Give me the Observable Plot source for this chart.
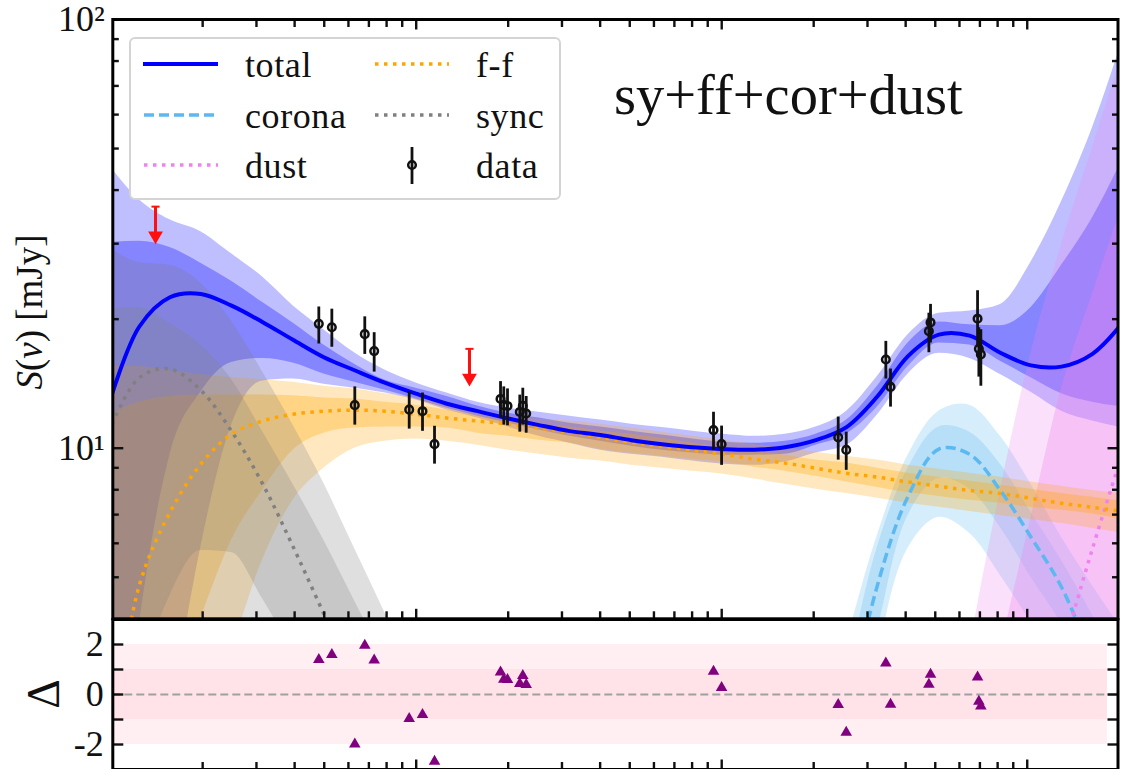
<!DOCTYPE html>
<html>
<head>
<meta charset="utf-8">
<script src="https://cdn.jsdelivr.net/npm/d3@7"></script>
<script src="https://cdn.jsdelivr.net/npm/@observablehq/plot@0.6"></script>
<style>
  html, body { margin: 0; padding: 0; background: #fff; overflow: hidden; }
  #page { position: relative; width: 1125px; height: 769px; font-family: "Liberation Serif", serif; color: #111; }
  #chart, #resid { position: absolute; left: 0; }
  #chart { top: 0; }
  #resid { top: 618px; }
  svg { overflow: visible; background: transparent !important; }
  .ylab { position: absolute; white-space: nowrap; transform: translate(-50%, -50%) rotate(-90deg); }
  #legend { position: absolute; left: 129px; top: 37px; width: 428px; height: 159px; background: #fff;
            border: 2px solid #d4d4d4; border-radius: 6px; }
  #legend svg { position: absolute; left: 0; top: 0; }
  .lt { position: absolute; font-size: 36px; line-height: 40px; letter-spacing: 0.6px; }
  #model { position: absolute; left: 614px; top: 62px; font-size: 56.5px; line-height: 66px; white-space: nowrap; }
</style>
</head>
<body>
<div id="page">
  <div id="chart"></div>
  <div id="resid"></div>
  <div class="ylab" style="left:29px;top:312px;font-size:37px"><i>S</i>(<i>ν</i>) [mJy]</div>
  <div class="ylab" style="left:43px;top:694px;font-size:46px">Δ</div>
  <div id="model">sy+ff+cor+dust</div>
  <div id="legend">
    <svg width="428" height="159">
      <line x1="12" x2="87" y1="25" y2="25" stroke="#0000ff" stroke-width="4"/>
      <line x1="13" x2="87" y1="76" y2="76" stroke="#5cb8f0" stroke-width="3.5" stroke-dasharray="10 5"/>
      <line x1="13" x2="87" y1="126" y2="126" stroke="#ee82ee" stroke-width="3.5" stroke-dasharray="3.5 5.5"/>
      <line x1="244" x2="318" y1="25" y2="25" stroke="#ffa500" stroke-width="3.5" stroke-dasharray="3.5 5.5"/>
      <line x1="244" x2="318" y1="76" y2="76" stroke="#808080" stroke-width="3.5" stroke-dasharray="3.5 5.5"/>
      <line x1="281" x2="281" y1="108" y2="145" stroke="#111" stroke-width="2.8"/>
      <circle cx="281" cy="126" r="3.8" fill="none" stroke="#111" stroke-width="2.5"/>
    </svg>
    <div class="lt" style="left:114px;top:6px">total</div>
    <div class="lt" style="left:114px;top:57px">corona</div>
    <div class="lt" style="left:114px;top:107px">dust</div>
    <div class="lt" style="left:345px;top:6px">f-f</div>
    <div class="lt" style="left:345px;top:57px">sync</div>
    <div class="lt" style="left:345px;top:107px">data</div>
  </div>
</div>

<script>
// ─────────────────────────────────────────────────────────────
//  1. DATA
// ─────────────────────────────────────────────────────────────
const nuDomain = [0.1016, 198.2];
const sDomain  = [4, 100];

// frequency grid shared by the model curves
const nuGrid = [0.0984, 0.124, 0.1563, 0.1972, 0.2486, 0.3136, 0.395, 0.4983, 0.628, 0.7924,
  0.998, 1.26, 1.588, 2.002, 2.523, 3.182, 4.012, 5.06, 6.38, 8.04,
  10.14, 12.79, 16.12, 20.32, 25.62, 32.31, 40.73, 51.37, 64.76, 81.66,
  102.9, 129.5, 163.6, 206.4];

const total = [12.6, 19.2, 22.5, 22.9, 21.5, 19.7, 17.9, 16.3, 15.2, 14.2,
  13.4, 12.7, 12.2, 11.73, 11.32, 10.96, 10.73, 10.44, 10.22, 10.05,
  9.95, 9.92, 10.05, 10.44, 11.2, 13.2, 16.4, 18.4, 18.3, 16.7,
  15.6, 15.5, 16.6, 19.7];
const totalOuterHi = [45.9, 38.0, 34.1, 32.0, 28.4, 25.1, 21.5, 18.9, 16.7, 15.2,
  14.2, 13.45, 12.8, 12.4, 12.13, 11.88, 11.63, 11.38, 11.17, 10.96,
  10.78, 10.66, 10.78, 11.2, 12.2, 14.7, 18.4, 20.65, 20.9, 21.65,
  27.2, 37.6, 56.0, 90.9];
const totalInnerHi = [30.2, 30.4, 29.4, 27.0, 24.5, 21.9, 19.6, 17.4, 15.7, 14.4,
  13.8, 13.2, 12.55, 12.07, 11.76, 11.44, 11.2, 10.96, 10.73, 10.5,
  10.32, 10.27, 10.38, 10.78, 11.63, 13.95, 17.6, 19.7, 19.4, 19.3,
  21.3, 26.7, 34.5, 47.6];
const totalInnerLo = [0.877, 3.85, 9.63, 13.5, 15.85, 16.2, 15.8, 14.9, 14.25, 13.65,
  13.03, 12.4, 11.88, 11.44, 11.02, 10.66, 10.38, 10.11, 9.89, 9.74,
  9.63, 9.63, 9.68, 10.16, 10.78, 12.47, 15.5, 17.6, 17.4, 15.95,
  14.6, 13.4, 12.8, 12.47];
const totalOuterLo = [0.51, 0.877, 2.31, 5.87, 11.32, 14.35, 14.5, 14.1, 13.8, 13.45,
  12.95, 12.27, 11.76, 11.2, 10.66, 10.27, 9.89, 9.68, 9.53, 9.33,
  9.17, 9.12, 9.28, 9.74, 10.16, 11.95, 14.9, 16.65, 16.2, 14.85,
  13.5, 12.2, 11.57, 11.14];

const ff = [1.86, 4.78, 7.08, 9.18, 10.78, 11.57, 12.0, 12.2, 12.27, 12.2,
  12.0, 11.76, 11.57, 11.38, 11.14, 10.9, 10.6, 10.32, 10.11, 9.89,
  9.68, 9.43, 9.23, 8.98, 8.74, 8.56, 8.34, 8.15, 7.97, 7.84,
  7.64, 7.44, 7.28, 7.12];
const ffOuterHi = [15.5, 15.5, 15.15, 14.85, 14.6, 14.45, 14.25, 13.95, 13.75, 13.4,
  13.1, 12.67, 12.27, 11.88, 11.7, 11.57, 11.38, 11.14, 10.9, 10.66,
  10.44, 10.22, 10, 9.79, 9.58, 9.38, 9.12, 8.93, 8.74, 8.56,
  8.34, 8.15, 7.97, 7.84];
const ffInnerHi = [11.94, 12.8, 13.2, 13.3, 13.3, 13.3, 13.25, 13.1, 13.03, 12.8,
  12.6, 12.27, 11.88, 11.57, 11.38, 11.2, 10.96, 10.78, 10.55, 10.27,
  10.05, 9.84, 9.63, 9.38, 9.23, 8.98, 8.74, 8.56, 8.38, 8.2,
  8.02, 7.84, 7.68, 7.52];
const ffInnerLo = [0.51, 1.15, 2.57, 4.02, 6.1, 7.97, 9.89, 10.84, 11.14, 11.2,
  11.2, 11.14, 10.84, 10.66, 10.44, 10.27, 9.95, 9.74, 9.58, 9.43,
  9.28, 9.03, 8.84, 8.6, 8.34, 8.1, 7.88, 7.72, 7.56, 7.44,
  7.28, 7.17, 7.02, 6.82];
const ffOuterLo = [0.30, 0.51, 1.15, 2.07, 3.37, 5.47, 7.56, 8.98, 10, 10.38,
  10.5, 10.38, 10.16, 9.89, 9.68, 9.48, 9.33, 9.12, 8.98, 8.84,
  8.7, 8.47, 8.24, 8.02, 7.84, 7.64, 7.44, 7.28, 7.12, 6.97,
  6.82, 6.67, 6.5, 6.33];

// sync only matters at the low frequency end
const syncNu = [0.0984, 0.124, 0.1563, 0.1972, 0.2486, 0.3136, 0.395, 0.4983, 0.628, 0.7924, 0.998];
const sync = [10.9, 14.6, 15.3, 13.65, 10.96, 8.28, 5.9, 4.11, 2.87, 1.96, 1.34];
const syncOuterHi = [29.5, 27.1, 26.7, 24.3, 19.8, 15.1, 11.32, 8.28, 5.84, 4.11, 2.87];
const syncInnerHi = [21.1, 21.3, 19.5, 17.4, 14.45, 10.96, 8.24, 6.1, 4.41, 3.19, 2.31];
const syncInnerLo = [1.5, 2.87, 4.53, 5.77, 5.71, 4.46, 3.37, 2.57, 1.96, 1.5, 1.15];
const syncOuterLo = [1, 1, 1, 1, 1, 1, 1, 1, 1, 1, 1];

const coronaNu = [20.32, 25.62, 32.31, 40.73, 51.37, 64.76, 81.66, 102.9, 129.5, 163.6, 206.4];
const corona = [0.88, 2.31, 4.78, 7.72, 9.95, 9.68, 7.97, 6.2, 4.74, 3.19, 2.07];
const coronaOuterHi = [1.96, 3.53, 6.26, 9.63, 12.2, 12.6, 10.66, 8.24, 6.2, 4.78, 3.75];
const coronaInnerHi = [1.15, 2.87, 5.87, 8.98, 11.2, 10.9, 9.18, 7.08, 5.47, 4.07, 2.87];
const coronaInnerLo = [0.67, 1.96, 3.75, 6.97, 8.51, 8.02, 6.53, 5.0, 3.9, 2.87, 1.96];
const coronaOuterLo = [0.30, 0.88, 3.19, 5.84, 6.9, 6.33, 5.05, 3.9, 2.87, 1.96, 1.27];

const dustNu = [51.37, 64.76, 81.66, 102.9, 129.5, 163.6, 206.4];
const dust = [0.30, 0.51, 0.98, 1.77, 3.28, 5.84, 9.89];
const dustOuterHi = [1.15, 3.37, 7.97, 16.7, 29.8, 50.3, 85];
const dustInnerHi = [0.51, 1.5, 3.37, 6.9, 13.8, 23, 37.6];
const dustInnerLo = [0.3, 0.3, 0.3, 0.3, 0.3, 0.3, 0.3];
const dustOuterLo = [0.2, 0.2, 0.2, 0.2, 0.2, 0.2, 0.2];

// measured fluxes
const obsNu = [0.480, 0.5295, 0.6295, 0.6787, 0.7285, 0.9486, 1.0486, 1.148, 1.888, 1.935, 1.990, 2.183, 2.233,
  2.291, 9.40, 9.99, 24.06, 25.56, 34.45, 35.69, 47.65, 48.25, 68.77, 69.45, 70.5];
const obsS = [19.5, 19.15, 12.6, 18.45, 16.85, 12.3, 12.2, 10.22, 13.03, 12.6, 12.55, 12.15, 12.55,
  12.05, 11.02, 10.22, 10.6, 9.91, 16.1, 13.9, 18.75, 19.65, 20.05, 17.05, 16.55];
const obsHi = [21.35, 21.1, 13.9, 20.25, 18.6, 13.55, 13.45, 11.25, 14.3, 13.9, 13.75, 13.3, 13.8,
  13.2, 12.13, 11.26, 11.82, 10.9, 17.75, 15.3, 20.65, 21.65, 23.3, 19.1, 18.9];
const obsLo = [17.5, 17.2, 11.32, 16.55, 15.05, 11.08, 10.95, 9.18, 11.76, 11.32, 11.28, 10.9, 11.32,
  10.84, 9.89, 9.12, 9.38, 8.88, 14.5, 12.47, 16.7, 17.6, 17.2, 14.65, 13.95];
const residual = [1.39, 1.59, -1.99, 1.96, 1.37, -0.97, -0.81, -2.68, 0.89, 0.6, 0.59, 0.43, 0.75,
  0.39, 0.92, 0.27, -0.41, -1.52, 1.25, -0.4, 0.4, 0.8, 0.69, -0.28, -0.47];

// upper limits
const limitNu  = [0.1402, 1.494];
const limitTop = [36.6, 17.05];
const limitEnd = [31.3, 14.58];

// sigma bands of the residual panel
const sigmaLo = [-2, -1];
const sigmaHi = [2, 1];
const sigmaOp = [0.25, 0.25];
const sigmaEnd = 183;

const nuMajor = [1, 10, 100];
const nuMinor = [0.2, 0.3, 0.4, 0.5, 0.6, 0.7, 0.8, 0.9, 2, 3, 4, 5, 6, 7, 8, 9,
  20, 30, 40, 50, 60, 70, 80, 90];
const sMajor = [10, 100];
const sMinor = [5, 6, 7, 8, 9, 20, 30, 40, 50, 60, 70, 80, 90];
const sLabels = { 10: "10¹", 100: "10²" };
const residTicks = [-2, -1, 0, 1, 2];
const residLabels = [-2, 0, 2];

// ─────────────────────────────────────────────────────────────
//  2. HELPERS
// ─────────────────────────────────────────────────────────────
const FONT = "Liberation Serif";
const INK  = "#111";

function band(nu, lo, hi, fill, fillOpacity, bandCurve = "monotone-x") {
  return Plot.areaY(nu, { x: nu, y1: lo, y2: hi, fill, fillOpacity, curve: bandCurve, clip: true });
}

function curve(nu, s, stroke, strokeWidth, strokeDasharray) {
  return Plot.line(nu, {
    x: nu, y: s, stroke, strokeWidth, strokeDasharray,
    strokeLinecap: "butt", curve: "catmull-rom", clip: true
  });
}

// inward ticks, no text
const blank = () => "";
function tickX(values, anchor, tickSize) {
  return Plot.axisX(values, { anchor, tickSize, tickFormat: blank, label: null, stroke: INK, strokeWidth: 2.4 });
}
function tickY(values, anchor, tickSize) {
  return Plot.axisY(values, { anchor, tickSize, tickFormat: blank, label: null, stroke: INK, strokeWidth: 2.4 });
}

// flat cap on top of the upper limit arrows
const capSymbol = {
  draw(ctx, size) {
    const w = Math.sqrt(size);
    ctx.moveTo(-w, -1);
    ctx.lineTo(w, -1);
    ctx.lineTo(w, 1);
    ctx.lineTo(-w, 1);
    ctx.closePath();
  }
};

// ─────────────────────────────────────────────────────────────
//  3. MAIN PANEL
// ─────────────────────────────────────────────────────────────
const main = Plot.plot({
  width: 1125,
  height: 620,
  marginLeft: 112.3,
  marginRight: 7.5,
  marginTop: 19,
  marginBottom: 1.7,
  style: { background: "transparent" },
  x: { type: "log", domain: nuDomain, axis: null },
  y: { type: "log", domain: sDomain, axis: null },
  marks: [
    band(nuGrid, totalOuterLo, totalOuterHi, "#0000ff", 0.25),
    band(nuGrid, totalInnerLo, totalInnerHi, "#0000ff", 0.3),
    band(coronaNu, coronaOuterLo, coronaOuterHi, "#5cb8f0", 0.25, "catmull-rom"),
    band(coronaNu, coronaInnerLo, coronaInnerHi, "#5cb8f0", 0.25, "catmull-rom"),
    band(dustNu, dustOuterLo, dustOuterHi, "#ee82ee", 0.25),
    band(dustNu, dustInnerLo, dustInnerHi, "#ee82ee", 0.3),
    band(nuGrid, ffOuterLo, ffOuterHi, "#ffa500", 0.25),
    band(nuGrid, ffInnerLo, ffInnerHi, "#ffa500", 0.3),
    band(syncNu, syncOuterLo, syncOuterHi, "#808080", 0.25),
    band(syncNu, syncInnerLo, syncInnerHi, "#808080", 0.25),

    curve(coronaNu, corona, "#5cb8f0", 3.5, "10 5"),
    curve(dustNu, dust, "#ee82ee", 3.5, "3.5 5.5"),
    curve(syncNu, sync, "#808080", 3.5, "3.5 5.5"),
    curve(nuGrid, ff, "#ffa500", 3.5, "3.5 5.5"),
    curve(nuGrid, total, "#0000ff", 4),

    // upper limits
    Plot.ruleX(limitNu, { x: limitNu, y1: limitTop, y2: limitEnd, stroke: "#ff1010", strokeWidth: 3 }),
    Plot.dot(limitNu, { x: limitNu, y: limitEnd, symbol: "triangle", rotate: 180, r: 5.5, fill: "#ff1010", stroke: "none" }),
    Plot.dot(limitNu, { x: limitNu, y: limitTop, symbol: capSymbol, r: 2.3, fill: "#ff1010", stroke: "none" }),

    // data
    Plot.ruleX(obsNu, { x: obsNu, y1: obsLo, y2: obsHi, stroke: INK, strokeWidth: 2.8 }),
    Plot.dot(obsNu, { x: obsNu, y: obsS, r: 3.8, stroke: INK, strokeWidth: 2.5, fill: "none" }),

    tickX(nuMinor, "bottom", -7),
    tickX(nuMajor, "bottom", -9.5),
    tickX(nuMinor, "top", -7),
    tickX(nuMajor, "top", -9.5),
    tickY(sMinor, "left", -6.5),
    tickY(sMajor, "left", -11),
    tickY(sMinor, "right", -6.5),
    tickY(sMajor, "right", -11),
    Plot.axisY(sMajor, {
      anchor: "left", tickSize: 0, tickPadding: 8, label: null, stroke: "none",
      tickFormat: d => sLabels[d], fontSize: 36, fontFamily: FONT, fill: INK
    }),
    Plot.frame({ stroke: "black", strokeWidth: 3 })
  ]
});
document.getElementById("chart").appendChild(main);

// ─────────────────────────────────────────────────────────────
//  4. RESIDUAL PANEL
// ─────────────────────────────────────────────────────────────
const resid = Plot.plot({
  width: 1125,
  height: 151,
  marginLeft: 112.3,
  marginRight: 7.5,
  marginTop: 1,
  marginBottom: 0,
  style: { background: "transparent" },
  x: { type: "log", domain: nuDomain, axis: null },
  y: { domain: [-3, 3], axis: null },
  marks: [
    Plot.rect(sigmaLo, { x1: nuDomain[0], x2: sigmaEnd, y1: sigmaLo, y2: sigmaHi, fill: "#ffc0cb", fillOpacity: sigmaOp }),
    Plot.ruleY([0], { stroke: "#a0a0a0", strokeWidth: 2, strokeDasharray: "8 4" }),
    Plot.dot(obsNu, { x: obsNu, y: residual, symbol: "triangle", r: 4.3, fill: "#800080", stroke: "none" }),
    tickX(nuMinor, "bottom", -7),
    tickX(nuMajor, "bottom", -9.5),
    tickY(residTicks, "left", -11),
    tickY(residTicks, "right", -11),
    Plot.axisY(residLabels, {
      anchor: "left", tickSize: 0, tickPadding: 9, label: null, stroke: "none",
      tickFormat: d => String(d), fontSize: 36, fontFamily: FONT, fill: INK
    }),
    Plot.frame({ stroke: "black", strokeWidth: 3 })
  ]
});
document.getElementById("resid").appendChild(resid);
</script>
</body>
</html>
